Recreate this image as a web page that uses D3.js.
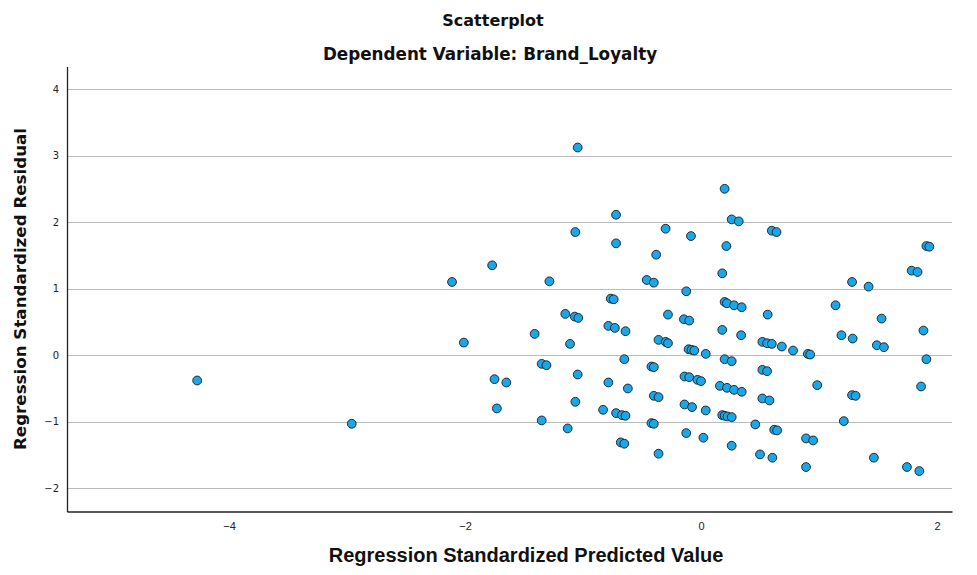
<!DOCTYPE html>
<html>
<head>
<meta charset="utf-8">
<script src="https://cdn.jsdelivr.net/npm/d3@7"></script>
<style>
  html, body { margin: 0; padding: 0; background: #fff; }
  svg { display: block; }
</style>
</head>
<body>
<svg id="chart" width="977" height="575"></svg>
<script>
// ---- data ----
const predicted = [
  -4.27, -2.96, -1.045, -1.065, -1.77, -2.11, -1.285, -1.15, -1.07, -1.04,
  -2.01, -1.41, -1.11, -1.35, -1.31, -1.045, -1.75, -1.65, -1.065, -1.73,
  -1.35, -1.13, 0.20, -0.72, 0.26, 0.32, -0.30, -0.085, 0.60, 0.64,
  -0.72, 0.215, -0.38, 0.18, -0.46, -0.40, -0.125, -0.765, -0.74, 0.20,
  0.22, 0.28, 0.345, -0.28, 0.565, -0.145, -0.10, -0.785, -0.73, -0.64,
  0.18, 0.34, 0.52, 0.56, 0.60, -0.36, -0.30, -0.28, -0.105, -0.08,
  -0.057, 0.04, -0.65, -0.42, -0.40, 0.20, 0.26, 0.52, 0.56, -0.785,
  -0.62, -0.14, -0.10, -0.03, 0.0, 0.16, 0.22, 0.28, 0.345, -0.40,
  -0.36, 0.52, 0.58, -0.14, -0.076, 0.04, -0.83, -0.72, -0.67, -0.64,
  0.18, 0.20, 0.225, 0.26, -0.42, -0.40, 0.46, -0.125, 0.02, -0.68,
  -0.65, 0.26, -0.36, 0.50, 0.605, 0.685, 0.78, 0.905, 0.925, 1.91,
  1.935, 1.785, 1.835, 1.28, 1.42, 1.14, 1.53, 1.885, 1.19, 1.285,
  1.49, 1.55, 1.91, 0.985, 1.865, 1.28, 1.31, 1.21, 0.62, 0.645,
  0.89, 0.95, 1.465, 0.89, 1.745, 1.85
];
const residual = [
  -0.38, -1.03, 3.12, 1.85, 1.35, 1.10, 1.11, 0.62, 0.58, 0.56,
  0.19, 0.32, 0.17, -0.13, -0.15, -0.29, -0.36, -0.41, -0.70, -0.80,
  -0.98, -1.10, 2.50, 2.11, 2.04, 2.01, 1.90, 1.79, 1.87, 1.85,
  1.68, 1.64, 1.51, 1.23, 1.13, 1.09, 0.96, 0.85, 0.84, 0.80,
  0.78, 0.75, 0.72, 0.61, 0.61, 0.54, 0.52, 0.44, 0.41, 0.36,
  0.38, 0.30, 0.20, 0.18, 0.17, 0.23, 0.20, 0.18, 0.09, 0.08,
  0.07, 0.02, -0.06, -0.17, -0.18, -0.06, -0.09, -0.22, -0.24, -0.41,
  -0.50, -0.32, -0.33, -0.37, -0.39, -0.46, -0.49, -0.52, -0.55, -0.61,
  -0.63, -0.65, -0.68, -0.74, -0.78, -0.83, -0.82, -0.87, -0.90, -0.91,
  -0.90, -0.91, -0.92, -0.93, -1.02, -1.03, -1.04, -1.17, -1.24, -1.31,
  -1.33, -1.36, -1.48, -1.49, -1.54, 0.13, 0.07, 0.02, 0.01, 1.64,
  1.63, 1.27, 1.25, 1.10, 1.03, 0.75, 0.55, 0.37, 0.30, 0.25,
  0.15, 0.12, -0.06, -0.45, -0.47, -0.60, -0.61, -0.99, -1.12, -1.13,
  -1.25, -1.28, -1.54, -1.68, -1.68, -1.74
];
const xTicks = [-4, -2, 0, 2];
const yTicks = [-2, -1, 0, 1, 2, 3, 4];
const titleText = "Scatterplot";
const subtitleText = "Dependent Variable: Brand_Loyalty";
const xTitle = "Regression Standardized Predicted Value";
const yTitle = "Regression Standardized Residual";

// ---- layout ----
const svg = d3.select("#chart");
const plotL = 67, plotR = 952, plotT = 66.5, plotB = 511.5;

const x = d3.scaleLinear().domain([-5.373, 2.127]).range([plotL, plotR]);
const y = d3.scaleLinear().domain([-2.348, 4.337]).range([plotB, plotT]);

// gridlines
svg.append("g")
  .selectAll("line")
  .data(yTicks)
  .join("line")
  .attr("x1", plotL).attr("x2", plotR)
  .attr("y1", d => Math.round(y(d)) + 0.5)
  .attr("y2", d => Math.round(y(d)) + 0.5)
  .attr("stroke", "#bcbcbc")
  .attr("stroke-width", 1);

// y axis
const yAxis = svg.append("g")
  .attr("transform", `translate(${plotL},0)`)
  .call(d3.axisLeft(y).tickValues(yTicks).tickSize(0).tickPadding(8)
        .tickFormat(d => d < 0 ? "\u2212" + Math.abs(d) : d));
yAxis.select(".domain").attr("stroke", "#222").attr("stroke-width", 1.3);
yAxis.selectAll("text")
  .attr("font-family", "'DejaVu Sans', sans-serif")
  .attr("font-size", 10)
  .attr("fill", "#222");

// x axis
const xAxis = svg.append("g")
  .attr("transform", `translate(0,${plotB})`)
  .call(d3.axisBottom(x).tickValues(xTicks).tickSize(0).tickPadding(11)
        .tickFormat(d => d < 0 ? "\u2212" + Math.abs(d) : d));
xAxis.select(".domain").attr("stroke", "#222").attr("stroke-width", 1.3);
xAxis.selectAll("text")
  .attr("font-family", "'Liberation Sans', sans-serif")
  .attr("font-size", 11)
  .attr("fill", "#222");

// points
const pts = predicted.map((p, i) => ({ p, r: residual[i] }));
svg.append("g")
  .selectAll("circle")
  .data(pts)
  .join("circle")
  .attr("cx", d => x(d.p))
  .attr("cy", d => y(d.r))
  .attr("r", 4.4)
  .attr("fill", "#1aa7ea")
  .attr("stroke", "#1a1a1a")
  .attr("stroke-width", 0.9);

// titles
svg.append("text")
  .attr("x", 493).attr("y", 25.5)
  .attr("text-anchor", "middle")
  .attr("font-family", "'DejaVu Sans', sans-serif")
  .attr("font-weight", "bold")
  .attr("font-size", 16)
  .attr("fill", "#111")
  .text(titleText);

svg.append("text")
  .attr("x", 490).attr("y", 60)
  .attr("text-anchor", "middle")
  .attr("font-family", "'DejaVu Sans', sans-serif")
  .attr("font-weight", "bold")
  .attr("font-size", 16.8)
  .attr("fill", "#111")
  .text(subtitleText);

svg.append("text")
  .attr("x", 526).attr("y", 562)
  .attr("text-anchor", "middle")
  .attr("font-family", "'Liberation Sans', sans-serif")
  .attr("font-weight", "bold")
  .attr("font-size", 20)
  .attr("fill", "#111")
  .text(xTitle);

svg.append("text")
  .attr("transform", "translate(26,289) rotate(-90)")
  .attr("text-anchor", "middle")
  .attr("font-family", "'DejaVu Sans', sans-serif")
  .attr("font-weight", "bold")
  .attr("font-size", 16.7)
  .attr("fill", "#111")
  .text(yTitle);
</script>
</body>
</html>
